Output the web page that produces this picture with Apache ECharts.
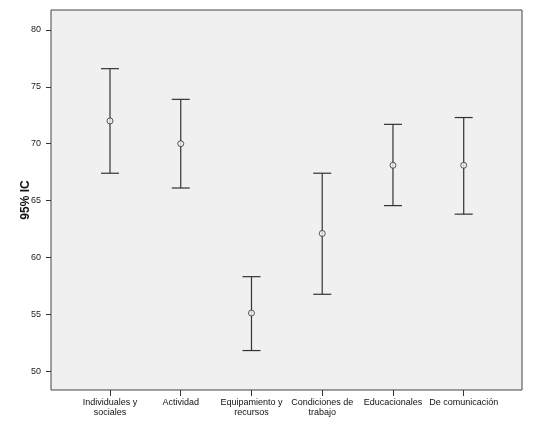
<!DOCTYPE html>
<html>
<head>
<meta charset="utf-8">
<script src="https://cdn.jsdelivr.net/npm/echarts@6/dist/echarts.min.js"></script>
<style>
  html, body { margin: 0; padding: 0; background: #fff; }
  #main { width: 534px; height: 428px; }
</style>
</head>
<body>
<div id="main"></div>
<script>
// categories and CI values
var categories = ['Individuales y\nsociales', 'Actividad', 'Equipamiento y\nrecursos',
    'Condiciones de\ntrabajo', 'Educacionales', 'De comunicación'];
var means = [72.0, 70.0, 55.1, 62.1, 68.1, 68.1];
var lower = [67.4, 66.1, 51.8, 56.75, 64.55, 63.8];
var upper = [76.6, 73.9, 58.3, 67.4, 71.7, 72.3];
var yTicks = [50, 55, 60, 65, 70, 75, 80];
var xTicks = [1, 2, 3, 4, 5, 6];

var lineColor = '#333';

var chartDom = document.getElementById('main');
var myChart = echarts.init(chartDom);

var barData = []
var pointData = []
for (let i = 0; i < categories.length; i++) {
    barData.push([i + 1, lower[i], upper[i]])
    pointData.push([i + 1, means[i]])
}

function renderBar(params, api) {
    let x = api.value(0)
    let lo = api.coord([x, api.value(1)])
    let hi = api.coord([x, api.value(2)])
    let cap = 9
    let style = {stroke: lineColor, lineWidth: 1.2}
    return {
        type: 'group',
        children: [
            {type: 'line', shape: {x1: lo[0], y1: lo[1], x2: hi[0], y2: hi[1]}, style: style},
            {type: 'line', shape: {x1: hi[0] - cap, y1: hi[1], x2: hi[0] + cap, y2: hi[1]}, style: style},
            {type: 'line', shape: {x1: lo[0] - cap, y1: lo[1], x2: lo[0] + cap, y2: lo[1]}, style: style}
        ]
    }
}

var option = {
    animation: false,
    grid: {
        left: 51, top: 10, right: 12, bottom: 38,
        show: true,
        backgroundColor: '#f0f0f0',
        borderColor: '#444',
        borderWidth: 1
    },
    xAxis: {
        type: 'value',
        min: 0.166,
        max: 6.824,
        splitLine: {show: false},
        axisLine: {show: false},
        axisTick: {show: true, length: 6, customValues: xTicks, lineStyle: {color: lineColor}},
        axisLabel: {
            customValues: xTicks,
            margin: 8,
            fontFamily: 'Liberation Sans',
            fontSize: 9,
            lineHeight: 10,
            color: '#111',
            formatter: function (v) {
                let idx = Math.round(v) - 1
                return categories[idx] || ''
            }
        }
    },
    yAxis: {
        type: 'value',
        min: 48.33,
        max: 81.76,
        name: '95% IC',
        nameLocation: 'middle',
        nameGap: 19,
        nameMoveOverlap: false,
        nameTextStyle: {fontFamily: 'Liberation Sans', fontWeight: 'bold', fontSize: 12, color: '#111'},
        splitLine: {show: false},
        axisLine: {show: false},
        axisTick: {show: true, length: 5, customValues: yTicks, lineStyle: {color: lineColor}},
        axisLabel: {
            customValues: yTicks,
            margin: 10,
            fontFamily: 'Liberation Sans',
            fontSize: 9,
            color: '#222'
        }
    },
    series: [
        {
            type: 'custom',
            renderItem: renderBar,
            data: barData,
            encode: {x: 0, y: [1, 2]},
            z: 2
        },
        {
            type: 'scatter',
            data: pointData,
            symbol: 'circle',
            symbolSize: 6,
            itemStyle: {color: '#f0f0f0', borderColor: lineColor, borderWidth: 1},
            z: 3
        }
    ]
};
myChart.setOption(option);
</script>
</body>
</html>
